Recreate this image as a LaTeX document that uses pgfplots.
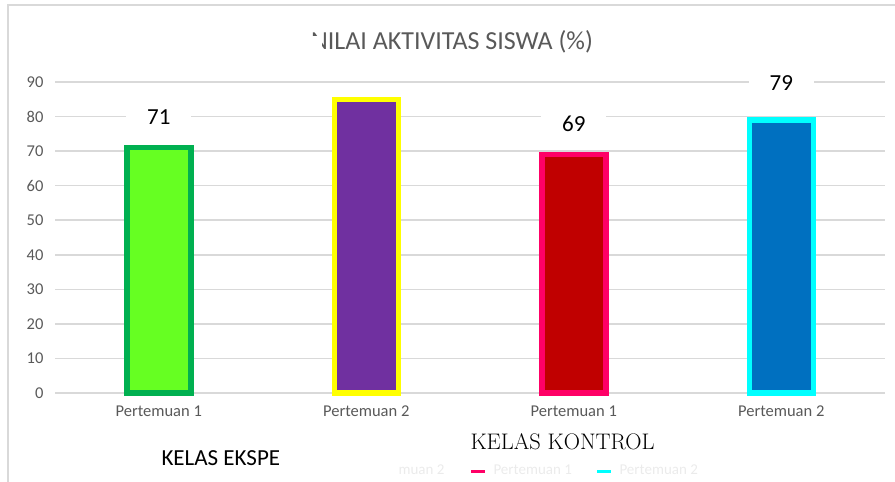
\documentclass[border=0pt]{standalone}
\usepackage{fontspec}
\usepackage{pgfplots}
\pgfplotsset{compat=1.18}
\newfontfamily\carlito{Carlito}
\definecolor{gridc}{HTML}{D9D9D9}
\definecolor{tickc}{HTML}{595959}
\definecolor{gfill}{HTML}{66FF22}
\definecolor{gline}{HTML}{00B050}
\definecolor{pfill}{HTML}{7030A0}
\definecolor{pline}{HTML}{FFFF00}
\definecolor{rfill}{HTML}{C00000}
\definecolor{rline}{HTML}{FF0066}
\definecolor{bfill}{HTML}{0070C0}
\definecolor{bline}{HTML}{00FFFF}
\begin{document}
\begin{tikzpicture}
\path[use as bounding box] (0pt,0pt) rectangle (895pt,482pt);
\draw[gridc, line width=1.5pt] (8pt,0pt) -- (8pt,477pt) -- (895pt,477pt);
\begin{axis}[
  at={(55pt,89pt)}, anchor=south west,
  scale only axis, width=830pt, height=311pt,
  xmin=-0.5, xmax=3.5, ymin=0, ymax=90,
  ytick={0,10,...,90},
  xtick={0,1,2,3},
  xticklabels={Pertemuan 1,Pertemuan 2,Pertemuan 1,Pertemuan 2},
  axis line style={draw=none},
  major tick length=0pt,
  ymajorgrids,
  grid style={gridc, line width=1.5pt},
  /pgf/number format/assume math mode=true,
  ticklabel style={font=\carlito\fontsize{16.5}{18}\selectfont, text=tickc},
  yticklabel style={anchor=east, xshift=-8pt},
  xticklabel style={anchor=north, yshift=-9pt},
  clip=false,
]
\addplot[ybar, bar width=64pt, bar shift=0pt, fill=gfill, draw=gline, line width=5.5pt,
  nodes near coords, every node near coord/.style={anchor=center, yshift=31pt, fill=white, inner xsep=21pt, inner ysep=3pt, text=black, font=\carlito\fontsize{23}{25}\selectfont}]
  coordinates {(0,71)};
\addplot[ybar, bar width=64pt, bar shift=0pt, fill=pfill, draw=pline, line width=5.5pt]
  coordinates {(1,85)};
\addplot[ybar, bar width=64pt, bar shift=0pt, fill=rfill, draw=rline, line width=5.5pt,
  nodes near coords, every node near coord/.style={anchor=center, yshift=31pt, fill=white, inner xsep=21pt, inner ysep=3pt, text=black, font=\carlito\fontsize{23}{25}\selectfont}]
  coordinates {(2,69)};
\addplot[ybar, bar width=64pt, bar shift=0pt, fill=bfill, draw=bline, line width=5.5pt,
  nodes near coords, every node near coord/.style={anchor=center, yshift=37pt, fill=white, inner xsep=21pt, inner ysep=3pt, text=black, font=\carlito\fontsize{23}{25}\selectfont}]
  coordinates {(3,79)};
\end{axis}
% title
\node[text=tickc, font=\carlito\fontsize{26}{28}\selectfont] at (452pt,440pt) {NILAI AKTIVITAS SISWA (\%)};
\fill[white] (306pt,425pt) rectangle (322.3pt,446pt);
% faint legend remnants
\node[anchor=west, text=black!8, font=\carlito\fontsize{15}{17}\selectfont] at (395pt,12pt) {muan 2};
\draw[rline, line width=3pt] (471pt,10pt) -- (485pt,10pt);
\node[anchor=west, text=black!8, font=\carlito\fontsize{15}{17}\selectfont] at (490pt,12pt) {Pertemuan 1};
\draw[bline, line width=3pt] (597pt,10pt) -- (611pt,10pt);
\node[anchor=west, text=black!8, font=\carlito\fontsize{15}{17}\selectfont] at (616pt,12pt) {Pertemuan 2};
% group labels
\node[anchor=west, text=black, font=\carlito\fontsize{23}{25}\selectfont] at (158pt,24pt) {KELAS EKSPE};
\node[anchor=west, text=black, font=\fontsize{22.5}{24}\selectfont] at (467pt,40pt) {KELAS KONTROL};
\end{tikzpicture}
\end{document}
